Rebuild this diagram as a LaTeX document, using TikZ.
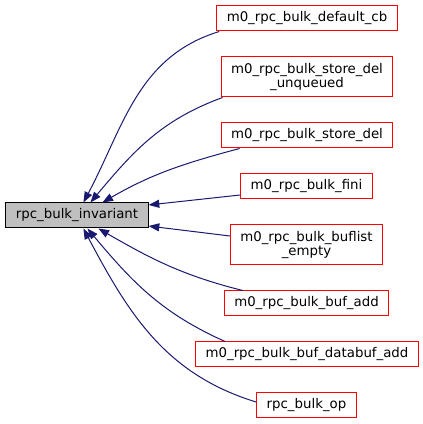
\documentclass[tikz,border=0pt]{standalone}
\usepackage{fontspec}
\setmainfont{DejaVu Sans}
\usetikzlibrary{arrows.meta}
\definecolor{midnight}{HTML}{191970}

\begin{document}
\begin{tikzpicture}[
        x=0.75pt, y=0.75pt,
        fn/.style={draw=red, fill=white, line width=0.75pt, inner xsep=7.5pt, inner ysep=1pt, minimum height=18.75pt, font=\fontsize{10}{10.5}\selectfont, align=center},
        fntall/.style={fn, minimum height=30pt},
        fnroot/.style={fn, draw=black, fill=gray!50},
        call/.style={draw=midnight, line width=0.75pt, {Triangle[length=8pt, width=6pt]}-}
    ]
    \useasboundingbox (0,0) rectangle (423,424);

    % Function under inspection
    \node[fnroot] (root) at (77,208.5) {rpc\_bulk\_invariant};

    % Callers
    \node[fn] (n1) at (307,405.5) {m0\_rpc\_bulk\_default\_cb};
    \node[fntall] (n2) at (307,347) {m0\_rpc\_bulk\_store\_del\\\_unqueued};
    \node[fn] (n3) at (307,288.5) {m0\_rpc\_bulk\_store\_del};
    \node[fn] (n4) at (306.5,238) {m0\_rpc\_bulk\_fini};
    \node[fntall] (n5) at (306.5,179) {m0\_rpc\_bulk\_buflist\\\_empty};
    \node[fn] (n6) at (306.5,120.5) {m0\_rpc\_bulk\_buf\_add};
    \node[fn] (n7) at (307,69.5) {m0\_rpc\_bulk\_buf\_databuf\_add};
    \node[fn] (n8) at (306.5,18.5) {rpc\_bulk\_op};

    % Call edges
    \draw[call] ([xshift=58.5pt]root.north west) to[out=62, in=197] ([xshift=2.25pt]n1.south west);
    \draw[call] ([xshift=63.75pt]root.north west) to[out=50, in=200] ([xshift=1.5pt]n2.south west);
    \draw[call] ([xshift=72.75pt]root.north west) to[out=30, in=195] ([xshift=14.25pt]n3.south west);
    \draw[call] ([yshift=7.9pt]root.east) -- ([yshift=-6.75pt]n4.west);
    \draw[call] ([yshift=-7.9pt]root.east) -- ([yshift=6.75pt]n5.west);
    \draw[call] ([xshift=69.75pt]root.south west) to[out=-30, in=166] ([xshift=14.25pt]n6.north west);
    \draw[call] ([xshift=61.5pt]root.south west) to[out=-50, in=156] ([xshift=22.5pt]n7.north west);
    \draw[call] ([xshift=58.5pt]root.south west) to[out=-62, in=163] ([yshift=2.6pt]n8.west);

\end{tikzpicture}
\end{document}
